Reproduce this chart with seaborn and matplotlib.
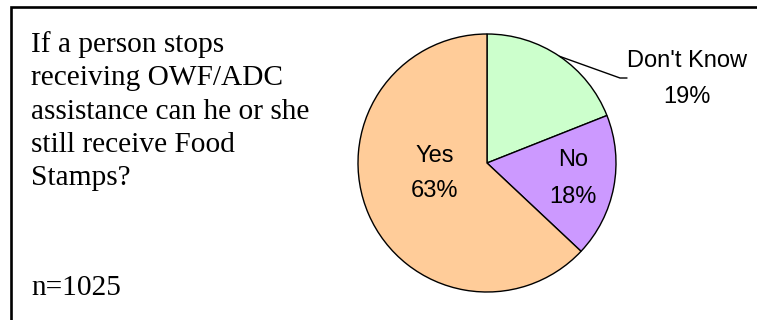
import numpy as np
import matplotlib
matplotlib.use("Agg")
import matplotlib.pyplot as plt
import seaborn as sns

# Survey answers and their shares (percent)
answers = ["Don't Know", "No", "Yes"]
shares = [19, 18, 63]
slice_colors = ["#CCFFCC", "#CC99FF", "#FFCC99"]
question_lines = [
    "If a person stops",
    "receiving OWF/ADC",
    "assistance can he or she",
    "still receive Food",
    "Stamps?",
]
sample_note = "n=1025"

sns.set_theme(style="white")
plt.rcParams["font.family"] = ["DejaVu Sans"]

sans_family = ["Liberation Sans", "DejaVu Sans"]
serif_family = ["Liberation Serif", "DejaVu Serif"]

W, H = 757, 320
fig = plt.figure(figsize=(W / 100, H / 100), dpi=100)
ax = fig.add_axes([0, 0, 1, 1])


def Y(y):
    """Convert a top-down pixel row to the axes' bottom-up coordinate."""
    return H - y


# Pie
cx, cy, r = 487, Y(163), 129
wedges, _ = ax.pie(shares, colors=slice_colors, startangle=90, counterclock=False,
                   center=(cx, cy), radius=r, frame=True,
                   wedgeprops=dict(edgecolor="black", linewidth=1.0))
ax.set_xlim(0, W)
ax.set_ylim(0, H)
ax.set_aspect("equal")
ax.axis("off")

# Frame around the panel (top and left edges visible)
ax.plot([11, 11, W + 5], [Y(H + 5), Y(7), Y(7)], color="black", lw=1.9,
        solid_joinstyle="miter", clip_on=False)

# Question text, one line per baseline
q_size = 21.2
for i, line in enumerate(question_lines):
    ax.text(31, Y(52 + i * 33.3), line, family=serif_family, fontsize=q_size,
            color="black", ha="left", va="baseline")
ax.text(31, Y(295), sample_note, family=serif_family, fontsize=q_size,
        color="black", ha="left", va="baseline")

lab_size = 17.0
label_spots = {
    "Don't Know": (687, 67, 103),
    "No": (573, 166, 203),
    "Yes": (435, 162, 197),
}
for name, share in zip(answers, shares):
    x, b1, b2 = label_spots[name]
    ax.text(x, Y(b1), name, family=sans_family, fontsize=lab_size,
            color="black", ha="center", va="baseline")
    ax.text(x, Y(b2), f"{share}%", family=sans_family, fontsize=lab_size,
            color="black", ha="center", va="baseline")

# Leader line from the rim of the "Don't Know" slice to its label
dk = wedges[0]
mid = np.deg2rad((dk.theta1 + dk.theta2) / 2)
rim = (cx + r * np.cos(mid), cy + r * np.sin(mid))
ax.plot([rim[0], 620, 627], [rim[1], Y(78), Y(78)], color="black", lw=1.0)

fig.savefig("out.png", dpi=100, facecolor="white")
